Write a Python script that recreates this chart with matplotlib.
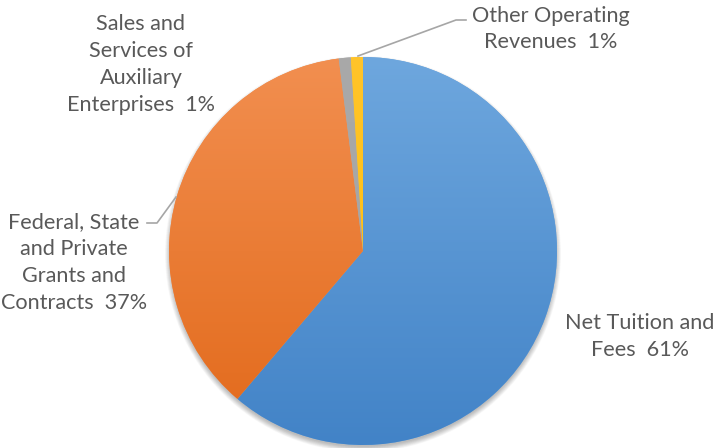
import matplotlib.pyplot as plt
import numpy as np
from matplotlib.colors import LinearSegmentedColormap
from matplotlib.patches import Circle

# data
labels = ["Net Tuition and\nFees  61%",
          "Federal, State\nand Private\nGrants and\nContracts  37%",
          "Sales and\nServices of\nAuxiliary\nEnterprises  1%",
          "Other Operating\nRevenues  1%"]
values = [61.2, 36.8, 1.0, 1.0]
top_colors = ["#6ea7de", "#f28f50", "#a9a9a9", "#ffc42a"]
bottom_colors = ["#4283c7", "#e2691a", "#a3a3a3", "#ffbe00"]

W, H = 715, 448
fig = plt.figure(figsize=(W / 100, H / 100), dpi=100)
ax = fig.add_axes([0, 0, 1, 1])

cx, cy, r = 363, H - 251, 194

# soft shadow under the pie
for i in range(12):
    ax.add_patch(Circle((cx, cy - 3), r + 4 - i * 0.5, color='black',
                        alpha=0.025, lw=0, zorder=1))

wedges, _ = ax.pie(values, startangle=90, counterclock=False,
                   center=(cx, cy), radius=r, colors=top_colors,
                   wedgeprops=dict(linewidth=0), frame=True)

# vertical gradient inside each wedge
grad = np.linspace(0, 1, 256).reshape(-1, 1)
for w, c0, c1 in zip(wedges, top_colors, bottom_colors):
    w.set_zorder(2)
    cmap = LinearSegmentedColormap.from_list('g', [c1, c0])
    im = ax.imshow(grad, cmap=cmap, origin='lower', aspect='auto',
                   extent=(cx - r, cx + r, cy - r, cy + r), zorder=3)
    im.set_clip_path(w)

ax.set_xlim(0, W)
ax.set_ylim(0, H)
ax.set_aspect('equal')
ax.axis('off')

font = dict(family='Lato', fontsize=15.6, color='#595959',
            ha='center', va='center', linespacing=1.43)

ax.text(640, H - 336.5, labels[0], **font)
ax.text(74, H - 262.5, labels[1], **font)
ax.text(141, H - 64.5, labels[2], **font)
ax.text(551, H - 29, labels[3], **font)

# leader lines
ax.plot([358, 456, 466], [H - 56, H - 20, H - 20], color='#a6a6a6', lw=1.2, zorder=4)
ax.plot([147, 157, 176], [H - 223, H - 223, H - 197], color='#a6a6a6', lw=1.2, zorder=4)

fig.savefig('out.png', dpi=100)
